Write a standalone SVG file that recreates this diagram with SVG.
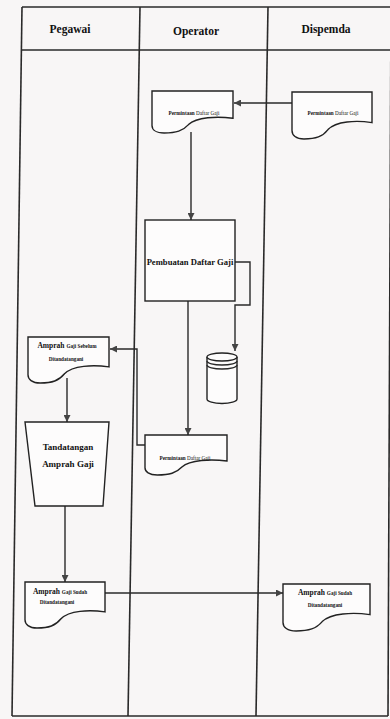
<svg xmlns="http://www.w3.org/2000/svg" width="390" height="719" viewBox="0 0 390 719">
<style>
.bg{fill:#f8f6f6}
.lane{stroke:#2a2a2a;stroke-width:1.6;fill:none}
.shape{fill:#fdfcfc;stroke:#222;stroke-width:1.4}
.conn{fill:none;stroke:#2a2a2a;stroke-width:1.4}
.hdr{font-family:"Liberation Serif",serif;font-weight:bold;font-size:11.5px;fill:#111;text-anchor:middle}
.t{font-family:"Liberation Serif",serif;fill:#111;text-anchor:middle;font-weight:bold}
.s{font-size:5.2px}
.n{font-weight:normal}
</style>
<defs>
<marker id="arr" viewBox="0 0 10 10" refX="10" refY="5" markerWidth="7" markerHeight="7" orient="auto" markerUnits="userSpaceOnUse">
<path d="M0,0 L10,5 L0,10 Z" fill="#444"/>
</marker>
</defs>
<rect class="bg" x="0" y="0" width="390" height="719"/>
<g id="swimlanes">
<path class="lane" d="M22,7 H392"/>
<path class="lane" d="M21,50 H392"/>
<path class="lane" d="M22,7 L12,716"/>
<path class="lane" d="M140,7 L128,716"/>
<path class="lane" d="M268,7 L256,716"/>
<path class="lane" d="M391,7 L388,716"/>
<path class="lane" d="M12,716 H388"/>
<text class="hdr" x="70" y="33">Pegawai</text>
<text class="hdr" x="196" y="35">Operator</text>
<text class="hdr" x="326" y="33">Dispemda</text>
</g>
<g id="connectors">
<path class="conn" d="M292,103 H234" marker-end="url(#arr)"/>
<path class="conn" d="M191,132 V220" marker-end="url(#arr)"/>
<path class="conn" d="M235,262 H250 V305 H235 V351" marker-end="url(#arr)"/>
<path class="conn" d="M188,301 V435" marker-end="url(#arr)"/>
<path class="conn" d="M145,445 H137 V349 H110" marker-end="url(#arr)"/>
<path class="conn" d="M67,378 V422" marker-end="url(#arr)"/>
<path class="conn" d="M65,506 V582" marker-end="url(#arr)"/>
<path class="conn" d="M105,593 H283" marker-end="url(#arr)"/>
</g>
<g id="doc-permintaan-dispemda">
<path class="shape" d="M292,92 H372 V122.6 C356,120.2 336,121.1 328,129.6 C322.4,136.7 316,139 304,139 C296,139 292,135.2 292,130.5 Z"/>
<text class="t s" x="333" y="115">Permintaan <tspan class="n">Daftar Gaji</tspan></text>
</g>
<g id="doc-permintaan-operator">
<path class="shape" d="M152,91 H233 V118.3 C216.8,116.2 196.6,117 188.5,124.6 C182.8,130.9 176.3,133 164.2,133 C156,133 152,129.6 152,125.4 Z"/>
<text class="t s" x="194" y="115">Permintaan <tspan class="n">Daftar Gaji</tspan></text>
</g>
<g id="proc-pembuatan">
<rect class="shape" x="145" y="220" width="90" height="81"/>
<text class="t" x="190" y="265" font-size="8.6">Pembuatan Daftar Gaji</text>
</g>
<g id="database">
<path class="shape" d="M207,357 V399 A15,4.5 0 0 0 237,399 V357"/>
<ellipse class="shape" cx="222" cy="357" rx="15" ry="4"/>
<path class="conn" d="M207,361 A15,4 0 0 0 237,361 M207,365 A15,4 0 0 0 237,365"/>
</g>
<g id="doc-permintaan-operator-2">
<path class="shape" d="M145,435 H227 V461 C210.6,459 190.1,459.8 181.9,467 C176.2,473 169.6,475 157.3,475 C149.1,475 145,471.8 145,467.8 Z"/>
<text class="t s" x="185" y="460">Permintaan <tspan class="n">Daftar Gaji</tspan></text>
</g>
<g id="doc-amprah-sebelum">
<path class="shape" d="M28,337 H109 V366.9 C92.8,364.6 72.6,365.5 64.5,373.8 C58.8,380.7 52.3,383 40.2,383 C32,383 28,379.3 28,374.7 Z"/>
<text class="t" x="67" y="348" font-size="7.5">Amprah <tspan class="s">Gaji Sebelum</tspan></text>
<text class="t s" x="66" y="361">Ditandatangani</text>
</g>
<g id="manual-tandatangan">
<polygon class="shape" points="25,422 109,422 103,506 35,506"/>
<text class="t" x="68" y="450" font-size="9">Tandatangan</text>
<text class="t" x="68" y="467" font-size="9">Amprah Gaji</text>
</g>
<g id="doc-amprah-sudah-pegawai">
<path class="shape" d="M25,582 H105 V611.9 C89,609.6 69,610.5 61,618.8 C55.4,625.7 49,628 37,628 C29,628 25,624.3 25,619.7 Z"/>
<text class="t" x="60" y="594" font-size="7.5">Amprah <tspan class="s">Gaji Sudah</tspan></text>
<text class="t s" x="57" y="604">Ditandatangani</text>
</g>
<g id="doc-amprah-sudah-dispemda">
<path class="shape" d="M283,584 H370 V614.6 C352.6,612.2 330.9,613.1 322.2,621.6 C316.1,628.7 309.1,631 296.1,631 C287.4,631 283,627.2 283,622.5 Z"/>
<text class="t" x="325" y="595" font-size="7.5">Amprah <tspan class="s">Gaji Sudah</tspan></text>
<text class="t s" x="325" y="607">Ditandatangani</text>
</g>
</svg>
